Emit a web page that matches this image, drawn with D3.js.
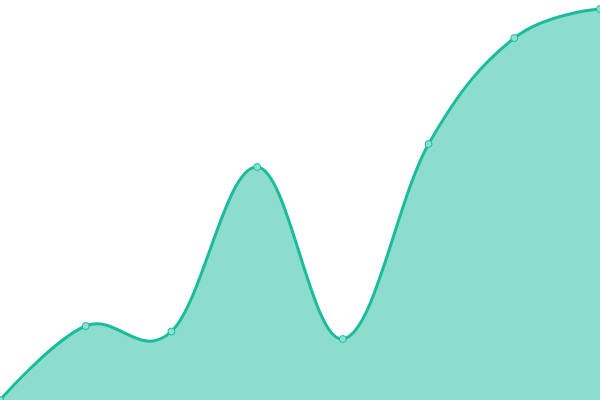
<!DOCTYPE html>
<html lang='en'>
  <head>
    <meta charset='utf-8'>
    <title>Area chart</title>
    <script type='text/javascript' src='https://cdn.jsdelivr.net/npm/d3@7'></script>
    <style>
      body { margin: 0; overflow: hidden; background: #fff; }
    </style>
  </head>
  <body>
    <script type='text/javascript'>

      var categories = [0, 1, 2, 3, 4, 5, 6, 7];
      var values = [0, 74, 68.5, 233, 61, 256, 362, 391];

      var w = 600;
      var h = 400;
      var lineColor = '#1abc9c';
      var fillColor = 'rgba(26,188,156,0.5)';
      var pointFill = '#8de0cf';

      var svg = d3.select('body')
                  .append('svg')
                  .attr('width', w)
                  .attr('height', h);

      var xScale = d3.scalePoint()
                     .domain(categories)
                     .range([0, w]);

      var yScale = d3.scaleLinear()
                     .domain([0, 400])
                     .range([h, 0]);

      var curve = d3.curveCardinal.tension(-0.1);

      var area = d3.area()
                   .x(function(d, i){ return xScale(categories[i]); })
                   .y0(h)
                   .y1(function(d){ return yScale(d); })
                   .curve(curve);

      var line = d3.line()
                   .x(function(d, i){ return xScale(categories[i]); })
                   .y(function(d){ return yScale(d); })
                   .curve(curve);

      svg.append('path')
         .datum(values)
         .attr('d', area)
         .attr('fill', fillColor);

      svg.append('path')
         .datum(values)
         .attr('d', line)
         .attr('fill', 'none')
         .attr('stroke', lineColor)
         .attr('stroke-width', 3);

      svg.selectAll('circle')
         .data(values)
         .enter()
         .append('circle')
         .attr('cx', function(d, i){ return xScale(categories[i]); })
         .attr('cy', function(d){ return yScale(d); })
         .attr('r', 3.5)
         .attr('fill', pointFill)
         .attr('stroke', lineColor)
         .attr('stroke-width', 1);

    </script>
  </body>
</html>
